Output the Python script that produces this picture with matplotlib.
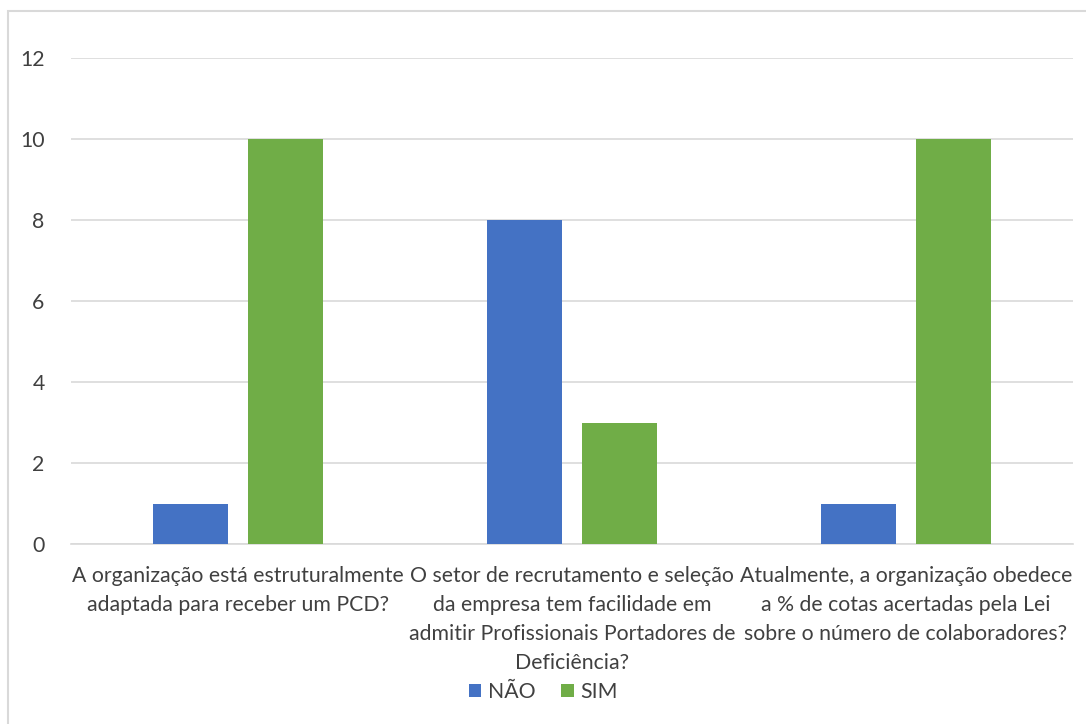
import matplotlib.pyplot as plt
import numpy as np
from matplotlib.patches import Rectangle

# Data
categories = ['A organização está estruturalmente\nadaptada para receber um PCD?',
              'O setor de recrutamento e seleção\nda empresa tem facilidade em\nadmitir Profissionais Portadores de\nDeficiência?',
              'Atualmente, a organização obedece\na % de cotas acertadas pela Lei\nsobre o número de colaboradores?']
nao = [1, 8, 1]
sim = [10, 3, 10]
series_names = ['NÃO', 'SIM']

# Style
COLOR_NAO = '#4472C4'
COLOR_SIM = '#70AD47'
GRID_COLOR = '#D9D9D9'
TEXT_COLOR = '#404040'
BAR_WIDTH = 0.225
BAR_OFFSET = 0.142
FONT_SIZE = 15.3

plt.rcParams['font.family'] = ['Lato', 'DejaVu Sans']

fig = plt.figure(figsize=(10.86, 7.24), dpi=100, facecolor='w')
fig.patches.append(Rectangle((8 / 1086, -0.01), 1.02, 1 - 11 / 724 + 0.01, transform=fig.transFigure,
                             fill=False, edgecolor='#D9D9D9', linewidth=1.5))
ax = fig.add_axes([71 / 1086, 1 - 544 / 724, (1073 - 71) / 1086, (544 - 58) / 724])

x = np.arange(len(categories))
ax.bar(x - BAR_OFFSET, nao, width=BAR_WIDTH, color=COLOR_NAO, label=series_names[0], zorder=3)
ax.bar(x + BAR_OFFSET, sim, width=BAR_WIDTH, color=COLOR_SIM, label=series_names[1], zorder=3)

ax.set_xlim(-0.5, 2.5)
ax.set_ylim(0, 12)
ax.set_yticks(range(0, 13, 2))
ax.yaxis.grid(True, color=GRID_COLOR, linewidth=1.2)
ax.set_axisbelow(True)
for s in ['top', 'right', 'left']:
    ax.spines[s].set_visible(False)
ax.spines['bottom'].set_color(GRID_COLOR)
ax.spines['bottom'].set_linewidth(1.2)
ax.set_xticks(x)
ax.set_xticklabels(categories, fontsize=FONT_SIZE, color=TEXT_COLOR, linespacing=1.55)
ax.tick_params(axis='x', length=0, pad=16)
ax.tick_params(axis='y', length=0, pad=19, labelsize=FONT_SIZE, labelcolor=TEXT_COLOR)

fig.legend(loc='center', bbox_to_anchor=(0.5, 1 - 692 / 724), ncol=2, frameon=False,
           fontsize=FONT_SIZE, labelcolor=TEXT_COLOR, handlelength=0.6, handleheight=0.6,
           handletextpad=0.3, columnspacing=1.2)

plt.savefig('out.png', dpi=100)
